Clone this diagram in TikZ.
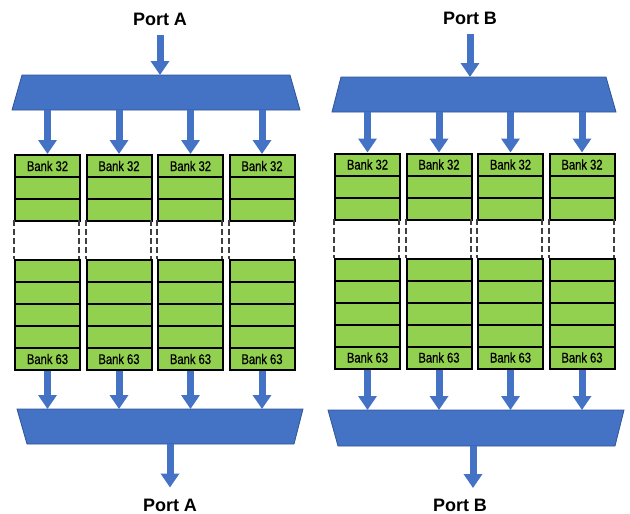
\documentclass[tikz,border=0pt]{standalone}
\usepackage{fontspec}
\usepackage{tikz}
\usetikzlibrary{arrows.meta}
\setmainfont{Liberation Sans}
\newfontfamily\narrowfont[FakeStretch=0.8, FakeBold=0.6]{Liberation Sans}
\definecolor{muxblue}{HTML}{4472C4}
\definecolor{muxedge}{HTML}{2F5597}
\definecolor{bankgreen}{HTML}{92D050}

% one column of banks: name, left x, top y
\newcommand{\bankcolumn}[3]{%
  \begin{scope}[shift={({#2},{#3})}]
    \node[bankrow] (#1-top) at (0,0) {Bank 32};
    \foreach \r in {1,2}
      \node[bankrow] at (0,\r*22) {};
    \draw[gapside] (0,66) -- (0,105) (65,66) -- (65,105);
    \foreach \r in {0,...,3}
      \node[bankrow] at (0,105+\r*22) {};
    \node[bankrow] (#1-bot) at (0,193) {Bank 63};
  \end{scope}}

\begin{document}
\begin{tikzpicture}[
            x=1pt, y=-1pt,
            bankrow/.style={draw, fill=bankgreen, line width=2pt, anchor=north west, minimum width=65pt, minimum height=22pt, inner sep=1pt, font=\narrowfont\fontsize{14}{14}\selectfont}, % one bank
            gapside/.style={dash pattern=on 6pt off 3pt, line width=2pt, black!75}, % the banks left out
            mux/.style={draw=muxedge, fill=muxblue, line width=0.8pt}, % blue trapezoid
            bluearrow/.style={draw=muxblue, line width=7pt, -{Triangle[width=18pt,length=14pt]}}, % wide blue arrow
            portlabel/.style={font=\fontsize{18}{18}\selectfont\bfseries, inner sep=0pt} % port name
            ]
        \useasboundingbox (0,0) rectangle (630,514);

        % port A side
        \node[portlabel] (portAin) at (160,19.5) {Port A};
        \draw[mux] (12,110) -- (22,75) -- (290,75) -- (300,110) -- cycle;
        \coordinate (muxAin-n) at (160,75);
        \coordinate (muxAin-s) at (156,110);
        \foreach \k in {1,...,4}
            \bankcolumn{A\k}{14+71.5*(\k-1)}{154};
        \draw[mux] (17,409) -- (303,409) -- (294,444) -- (27,444) -- cycle;
        \coordinate (muxAout-n) at (160,409);
        \coordinate (muxAout-s) at (170,444);
        \node[portlabel] (portAout) at (170,505) {Port A};

        % port B side
        \node[portlabel] (portBin) at (470,18) {Port B};
        \draw[mux] (332,112) -- (341,77) -- (606,77) -- (616,112) -- cycle;
        \coordinate (muxBin-n) at (470,77);
        \coordinate (muxBin-s) at (474,112);
        \foreach \k in {1,...,4}
            \bankcolumn{B\k}{334+71.5*(\k-1)}{152.5};
        \draw[mux] (328,410) -- (624,410) -- (615,446) -- (338,446) -- cycle;
        \coordinate (muxBout-n) at (476,410);
        \coordinate (muxBout-s) at (473,446);
        \node[portlabel] (portBout) at (460,505.5) {Port B};

        % arrows
        \draw[bluearrow, shorten <=9pt] (portAin) -- (muxAin-n);
        \draw[bluearrow, shorten <=10pt] (portBin) -- (muxBin-n);
        \foreach \p in {A,B}
            \foreach \k in {1,...,4} {
                \draw[bluearrow] (mux\p in-s -| \p\k-top.north) -- (\p\k-top.north);
                \draw[bluearrow] (\p\k-bot.south) -- (\p\k-bot.south |- mux\p out-n);
            }
        \draw[bluearrow, shorten >=11pt] (muxAout-s) -- (muxAout-s |- portAout.north);
        \draw[bluearrow, shorten >=11pt] (muxBout-s) -- (muxBout-s |- portBout.north);
\end{tikzpicture}
\end{document}
